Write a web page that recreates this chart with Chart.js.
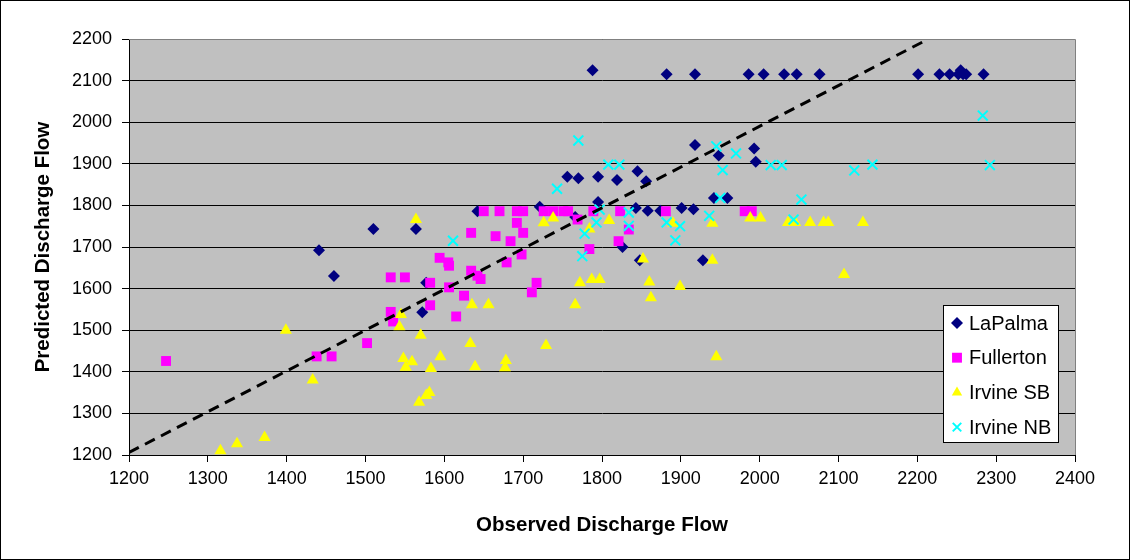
<!DOCTYPE html>
<html>
<head>
<meta charset="utf-8">
<script src="https://cdn.jsdelivr.net/npm/chart.js@4.4.1/dist/chart.umd.min.js"></script>
<style>
  html, body { margin: 0; padding: 0; background: #fff; }
  #wrap { width: 1130px; height: 560px; }
</style>
</head>
<body>
<div id="wrap"><canvas id="chart" width="1130" height="560"></canvas></div>
<script>
// observed / predicted pairs
const laPalma = [
  [1788, 2125], [1882, 2115], [1918, 2115], [1986, 2115], [2005, 2115], [2031, 2115],
  [2047, 2115], [2076, 2115], [2201, 2115], [2228, 2115], [2241, 2115], [2252, 2115],
  [2255, 2125], [2258, 2115], [2262, 2115], [2284, 2115],
  [1918, 1945], [1948, 1920], [1993, 1937], [1995, 1905], [1845, 1882], [1756, 1869],
  [1770, 1865], [1795, 1869], [1819, 1861], [1856, 1858], [1942, 1818], [1959, 1818],
  [1795, 1808], [1721, 1797], [1642, 1786], [1843, 1794], [1858, 1787], [1874, 1787],
  [1901, 1794], [1916, 1791], [1766, 1772], [1826, 1700], [1848, 1668], [1928, 1668],
  [1510, 1743], [1564, 1743], [1441, 1692], [1460, 1630], [1577, 1614], [1572, 1543]
];

const fullerton = [
  [1650, 1786], [1670, 1786], [1692, 1786], [1700, 1786], [1726, 1786], [1738, 1786],
  [1751, 1786], [1757, 1786], [1789, 1786], [1823, 1786], [1881, 1786], [1981, 1786],
  [1990, 1786],
  [1692, 1758], [1700, 1734], [1634, 1734], [1665, 1726], [1684, 1714], [1698, 1682],
  [1679, 1663], [1594, 1674], [1605, 1663], [1606, 1655], [1634, 1643], [1642, 1631],
  [1646, 1623], [1532, 1627], [1550, 1627], [1582, 1614], [1606, 1603], [1717, 1614],
  [1711, 1591], [1625, 1583], [1582, 1560], [1532, 1544], [1535, 1521], [1615, 1533],
  [1502, 1469], [1438, 1437], [1457, 1437], [1247, 1426], [1769, 1766], [1784, 1695],
  [1821, 1714], [1834, 1742]
];

const irvineSB = [
  [1564, 1766], [1726, 1758], [1738, 1770], [1784, 1743], [1809, 1764], [1852, 1671],
  [1890, 1757], [1940, 1757], [1940, 1668], [1988, 1770], [2001, 1770], [2036, 1759],
  [2045, 1759], [2064, 1759], [2081, 1759], [2087, 1759], [2131, 1759], [2107, 1634],
  [1772, 1614], [1787, 1622], [1797, 1622], [1860, 1616], [1862, 1578], [1899, 1605],
  [1766, 1561], [1729, 1463], [1945, 1436], [1635, 1561], [1656, 1561], [1633, 1468],
  [1545, 1538], [1543, 1508], [1570, 1488], [1399, 1500], [1433, 1380], [1548, 1432],
  [1559, 1424], [1551, 1411], [1595, 1436], [1583, 1408], [1639, 1412], [1678, 1427],
  [1677, 1410], [1568, 1327], [1577, 1343], [1581, 1350], [1316, 1210], [1337, 1227],
  [1372, 1242]
];

const irvineNB = [
  [1770, 1956], [1808, 1898], [1822, 1898], [1743, 1840], [1611, 1715], [1797, 1790],
  [1793, 1759], [1778, 1732], [1775, 1678], [1834, 1783], [1834, 1751], [1882, 1759],
  [1899, 1750], [1893, 1716], [1936, 1775], [1950, 1818], [1945, 1942], [1970, 1925],
  [1953, 1885], [2014, 1897], [2028, 1897], [2120, 1884], [2143, 1898], [2292, 1897],
  [2283, 2016], [2053, 1814], [2043, 1766]
];

// dashed reference line end points
const fitLine = [[1200, 1206], [2214, 2200]];

const xMin = 1200, xMax = 2400;
const yMin = 1200, yMax = 2200;
const step = 100;

const seriesNames = ["LaPalma", "Fullerton", "Irvine SB", "Irvine NB"];
const FONT = "'Liberation Sans', Arial, sans-serif";

const toXY = (arr) => arr.map(([x, y]) => ({ x: x, y: y }));

const series = [
  { label: seriesNames[0], data: toXY(laPalma), style: "rectRot", radius: 6, color: "#000080", fill: true, order: 4 },
  { label: seriesNames[1], data: toXY(fullerton), style: "rect", radius: 7, color: "#FF00FF", fill: true, order: 3 },
  { label: seriesNames[2], data: toXY(irvineSB), style: "triangle", radius: 7, color: "#FFFF00", fill: true, order: 2 },
  { label: seriesNames[3], data: toXY(irvineNB), style: "crossRot", radius: 7, color: "#00FFFF", fill: false, order: 1 },
];

const datasets = series.map((s) => ({
  label: s.label,
  data: s.data,
  pointStyle: s.style,
  pointRadius: s.radius,
  pointHoverRadius: s.radius,
  pointBackgroundColor: s.color,
  pointBorderColor: s.color,
  pointBorderWidth: s.fill ? 0 : 2,
  showLine: false,
  order: s.order,
}));

datasets.push({
  label: "fit",
  type: "line",
  data: toXY(fitLine),
  borderColor: "#000000",
  borderWidth: 3,
  borderDash: [11, 7],
  pointRadius: 0,
  fill: false,
  order: 0,
});

// small marker for the legend
function drawMarker(ctx, style, x, y, r, color) {
  ctx.save();
  ctx.fillStyle = color;
  ctx.strokeStyle = color;
  ctx.beginPath();
  if (style === "rectRot") {
    ctx.moveTo(x, y - r); ctx.lineTo(x + r, y); ctx.lineTo(x, y + r); ctx.lineTo(x - r, y);
    ctx.closePath(); ctx.fill();
  } else if (style === "rect") {
    const h = r * Math.SQRT1_2;
    ctx.rect(x - h, y - h, 2 * h, 2 * h); ctx.fill();
  } else if (style === "triangle") {
    ctx.moveTo(x, y - r);
    ctx.lineTo(x + r * 0.866, y + r * 0.5);
    ctx.lineTo(x - r * 0.866, y + r * 0.5);
    ctx.closePath(); ctx.fill();
  } else {
    const h = r * Math.SQRT1_2;
    ctx.lineWidth = 2;
    ctx.moveTo(x - h, y - h); ctx.lineTo(x + h, y + h);
    ctx.moveTo(x + h, y - h); ctx.lineTo(x - h, y + h);
    ctx.stroke();
  }
  ctx.restore();
}

const excelLook = {
  id: "excelLook",
  beforeDraw(chart) {
    const { ctx, chartArea: a } = chart;
    ctx.save();
    ctx.fillStyle = "#ffffff";
    ctx.fillRect(0, 0, chart.width, chart.height);
    ctx.fillStyle = "#C0C0C0";
    ctx.fillRect(a.left, a.top, a.right - a.left, a.bottom - a.top);
    ctx.restore();
  },
  beforeDatasetsDraw(chart) {
    const { ctx, chartArea: a } = chart;
    ctx.save();
    ctx.strokeStyle = "#808080";
    ctx.lineWidth = 1;
    ctx.beginPath();
    ctx.moveTo(a.left, a.top + 0.5); ctx.lineTo(a.right + 0.5, a.top + 0.5);
    ctx.lineTo(a.right + 0.5, a.bottom);
    ctx.stroke();
    ctx.restore();
  },
  afterDraw(chart) {
    const { ctx, chartArea: a } = chart;
    ctx.save();
    // outer frame
    ctx.strokeStyle = "#000000";
    ctx.lineWidth = 1;
    ctx.strokeRect(0.5, 0.5, chart.width - 1, chart.height - 1);

    // axis titles
    ctx.fillStyle = "#000000";
    ctx.font = "bold 20.5px " + FONT;
    ctx.textAlign = "center";
    ctx.textBaseline = "middle";
    ctx.fillText("Observed Discharge Flow", (a.left + a.right) / 2, 525);
    ctx.save();
    ctx.translate(43, (a.top + a.bottom) / 2);
    ctx.rotate(-Math.PI / 2);
    ctx.fillText("Predicted Discharge Flow", 0, 0);
    ctx.restore();

    // legend box
    const lx = 943, ly = 305, lw = 115, lh = 137;
    ctx.fillStyle = "#ffffff";
    ctx.fillRect(lx, ly, lw, lh);
    ctx.strokeStyle = "#000000";
    ctx.strokeRect(lx + 0.5, ly + 0.5, lw, lh);
    ctx.font = "20px " + FONT;
    ctx.textAlign = "left";
    ctx.textBaseline = "middle";
    series.forEach((s, i) => {
      const cy = ly + 18 + i * 34.7;
      drawMarker(ctx, s.style, lx + 14, cy, s.style === "rect" ? 7 : 6, s.color);
      ctx.fillStyle = "#000000";
      ctx.fillText(s.label, lx + 26, cy + 1);
    });
    ctx.restore();
  },
};

new Chart(document.getElementById("chart"), {
  type: "scatter",
  data: { datasets: datasets },
  options: {
    responsive: false,
    animation: false,
    devicePixelRatio: 1,
    layout: { padding: { top: 39, right: 55, left: 0, bottom: 0 } },
    plugins: {
      legend: { display: false },
      tooltip: { enabled: false },
    },
    scales: {
      x: {
        type: "linear",
        min: xMin,
        max: xMax,
        afterFit: (s) => { s.height = 105; },
        ticks: {
          stepSize: step,
          color: "#000000",
          font: { family: FONT, size: 18 },
          padding: 6,
          maxRotation: 0,
          callback: (v) => String(v),
        },
        grid: { drawOnChartArea: false, color: "#000000", tickLength: 7 },
        border: { color: "#000000", width: 1 },
      },
      y: {
        type: "linear",
        min: yMin,
        max: yMax,
        afterFit: (s) => { s.width = 129; },
        ticks: {
          stepSize: step,
          color: "#000000",
          font: { family: FONT, size: 18 },
          padding: 10,
          callback: (v) => String(v),
        },
        grid: { color: "#000000", tickLength: 7 },
        border: { color: "#000000", width: 1 },
      },
    },
  },
  plugins: [excelLook],
});
</script>
</body>
</html>
